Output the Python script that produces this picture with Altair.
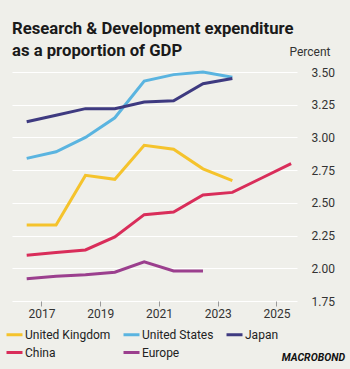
import altair as alt
import pandas as pd

series_names = ["United Kingdom", "United States", "Japan", "China", "Europe"]
colors = ["#F5C32C", "#5AB4E0", "#3E3A80", "#D92D5A", "#9B3F8E"]

years = [2016.5, 2017.5, 2018.5, 2019.5, 2020.5, 2021.5, 2022.5, 2023.5]
uk = [2.33, 2.33, 2.71, 2.68, 2.94, 2.91, 2.76, 2.67]
us = [2.84, 2.89, 3.00, 3.15, 3.43, 3.48, 3.50, 3.46]
japan = [3.12, 3.17, 3.22, 3.22, 3.27, 3.28, 3.41, 3.45]
china_years = [2016.5, 2017.5, 2018.5, 2019.5, 2020.5, 2021.5, 2022.5, 2023.5, 2024.5, 2025.5]
china = [2.10, 2.12, 2.14, 2.24, 2.41, 2.43, 2.56, 2.58, 2.69, 2.80]
europe_years = [2016.5, 2017.5, 2018.5, 2019.5, 2020.5, 2021.5, 2022.5]
europe = [1.92, 1.94, 1.95, 1.97, 2.05, 1.98, 1.98]

x_ticks = [2017, 2019, 2021, 2023, 2025]
y_ticks = [1.75, 2.00, 2.25, 2.50, 2.75, 3.00, 3.25, 3.50]

rows = []
for name, xs, vs in [
    ("United Kingdom", years, uk),
    ("United States", years, us),
    ("Japan", years, japan),
    ("China", china_years, china),
    ("Europe", europe_years, europe),
]:
    for x, v in zip(xs, vs):
        rows.append({"series": name, "year": x, "value": v})
df = pd.DataFrame(rows)

FONT = "Roboto"

lines = alt.Chart(df).mark_line(strokeWidth=3, clip=False).encode(
    x=alt.X(
        "year:Q",
        scale=alt.Scale(domain=[2016, 2025.7], nice=False, zero=False),
        axis=alt.Axis(
            values=x_ticks, format="d", grid=False, domain=False, ticks=True,
            tickSize=5, tickColor="#9a9a9a", labelFontSize=12, labelPadding=2,
            labelColor="#333333", labelFont=FONT, title=None,
        ),
    ),
    y=alt.Y(
        "value:Q",
        scale=alt.Scale(domain=[1.75, 3.5], nice=False, zero=False),
        axis=alt.Axis(
            orient="right", values=y_ticks, format=".2f", grid=True,
            gridColor="#FFFFFF", gridWidth=1.2, domain=False, ticks=False,
            labelPadding=14, labelFontSize=12, labelColor="#333333", labelFont=FONT,
            title="Percent", titleAngle=0, titleAlign="right", titleBaseline="bottom",
            titleX=33, titleY=-14, titleFontSize=12, titleFontWeight="normal",
            titleColor="#333333", titleFont=FONT,
        ),
    ),
    color=alt.Color(
        "series:N",
        scale=alt.Scale(domain=series_names, range=colors),
        sort=series_names,
        legend=alt.Legend(
            orient="none", legendX=-7, legendY=253, direction="horizontal",
            columns=3, columnPadding=6, rowPadding=2, title=None, gridAlign="each",
            symbolType="stroke", symbolSize=256, symbolStrokeWidth=3,
            labelFontSize=12, labelFont=FONT, labelColor="#222222", labelOffset=1,
        ),
    ),
)

logo = alt.Chart(pd.DataFrame({"t": ["MACROBOND"]})).mark_text(
    align="right", baseline="middle", fontSize=10.5, fontWeight="bold",
    fontStyle="italic", font=FONT, color="#111111",
).encode(x=alt.value(333), y=alt.value(286), text="t:N")

chart = alt.layer(lines, logo).properties(
    width=285,
    height=229,
    padding={"left": 12, "top": 72, "right": 53, "bottom": 68},
    autosize=alt.AutoSizeParams(type="none"),
    background="#EFEFEA",
    title=alt.TitleParams(
        text=["Research & Development expenditure", "as a proportion of GDP"],
        anchor="start", frame="group", fontSize=16.7, font=FONT, fontWeight="bold",
        lineHeight=22, color="#1a1a1a", offset=10, dy=25,
    ),
).configure_view(stroke=None)

chart.save("out.html", embed_options={"renderer": "svg", "actions": False})
